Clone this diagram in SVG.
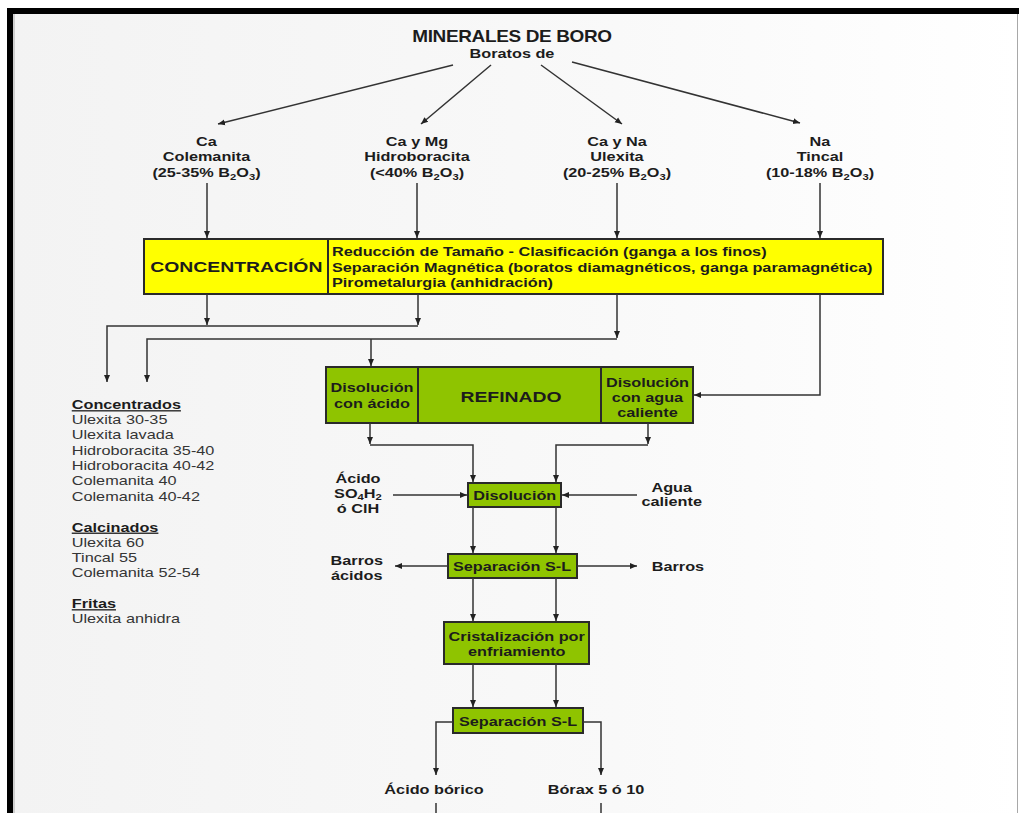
<svg xmlns="http://www.w3.org/2000/svg" width="1019" height="813" viewBox="0 0 1019 813">
<style>
.t{font-family:"Liberation Sans",Arial,sans-serif;transform:scale(1.25,1);fill:#1c1c1c}
.tt{font-family:"Liberation Sans",Arial,sans-serif;transform:scale(1.15,1);fill:#1c1c1c;font-weight:bold;font-size:16.5px;letter-spacing:-0.3px}
.b{font-weight:bold;font-size:13px}
.big{font-weight:bold;font-size:15.5px}
.r{font-size:13px;fill:#353535}
.m{text-anchor:middle}
.u{text-decoration:underline}
.ye{fill:#ffff00;stroke:#2a2a2a;stroke-width:2}
.gr{fill:#8fc400;stroke:#2a2a2a;stroke-width:2}
.dv{stroke:#2a2a2a;stroke-width:2}
.c path,.c line{fill:none;stroke:#333;stroke-width:1.5}
.a{marker-end:url(#ah)}
</style>
<defs>
<linearGradient id="bg" x1="0" y1="0" x2="1" y2="0">
<stop offset="0" stop-color="#f3f3f3"/>
<stop offset="0.6" stop-color="#f9f9f9"/>
<stop offset="1" stop-color="#ffffff"/>
</linearGradient>
<marker id="ah" markerWidth="8" markerHeight="8" refX="7" refY="4" orient="auto" markerUnits="userSpaceOnUse">
<path d="M0,1 L7,4 L0,7 z" fill="#222"/>
</marker>
</defs>
<rect x="0" y="0" width="1019" height="813" fill="#ffffff"/>
<rect x="13" y="14" width="1006" height="799" fill="url(#bg)"/>
<rect x="8" y="8" width="1011" height="6" fill="#000"/>
<rect x="7" y="8" width="6" height="805" fill="#000"/>
<line x1="14" y1="14" x2="14" y2="813" stroke="#aaa" stroke-width="1"/>
<line x1="1017.5" y1="14" x2="1017.5" y2="813" stroke="#a8a8a8" stroke-width="1"/>

<g id="title">
<text class="tt m" x="445.2" y="42">MINERALES DE BORO</text>
<text class="t b m" x="409.6" y="58">Boratos de</text>
</g>

<g id="colemanita">
<text class="t b m" x="165.2" y="146">Ca</text>
<text class="t b m" x="165.2" y="161.5">Colemanita</text>
<text class="t b m" x="165.2" y="177">(25-35% B<tspan dy="3" font-size="9">2</tspan><tspan dy="-3">O</tspan><tspan dy="3" font-size="9">3</tspan><tspan dy="-3">)</tspan></text>
</g>
<g id="hidroboracita">
<text class="t b m" x="333.6" y="146">Ca y Mg</text>
<text class="t b m" x="333.6" y="161.5">Hidroboracita</text>
<text class="t b m" x="333.6" y="177">(&lt;40% B<tspan dy="3" font-size="9">2</tspan><tspan dy="-3">O</tspan><tspan dy="3" font-size="9">3</tspan><tspan dy="-3">)</tspan></text>
</g>
<g id="ulexita">
<text class="t b m" x="493.6" y="146">Ca y Na</text>
<text class="t b m" x="493.6" y="161.5">Ulexita</text>
<text class="t b m" x="493.6" y="177">(20-25% B<tspan dy="3" font-size="9">2</tspan><tspan dy="-3">O</tspan><tspan dy="3" font-size="9">3</tspan><tspan dy="-3">)</tspan></text>
</g>
<g id="tincal">
<text class="t b m" x="656" y="146">Na</text>
<text class="t b m" x="656" y="161.5">Tincal</text>
<text class="t b m" x="656" y="177">(10-18% B<tspan dy="3" font-size="9">2</tspan><tspan dy="-3">O</tspan><tspan dy="3" font-size="9">3</tspan><tspan dy="-3">)</tspan></text>
</g>

<g id="concentracion">
<rect class="ye" x="144" y="239" width="739" height="55"/>
<line class="dv" x1="328" y1="239" x2="328" y2="294"/>
<text class="t big m" x="189.1" y="272.5">CONCENTRACIÓN</text>
<text class="t b" x="265.6" y="256.5">Reducción de Tamaño - Clasificación (ganga a los finos)</text>
<text class="t b" x="265.6" y="272">Separación Magnética (boratos diamagnéticos, ganga paramagnética)</text>
<text class="t b" x="265.6" y="287.5">Pirometalurgia (anhidración)</text>
</g>

<g id="productos">
<text class="t b u" x="57.4" y="409.3">Concentrados</text>
<text class="t r" x="57.4" y="424.3">Ulexita 30-35</text>
<text class="t r" x="57.4" y="439.5">Ulexita lavada</text>
<text class="t r" x="57.4" y="454.7">Hidroboracita 35-40</text>
<text class="t r" x="57.4" y="470">Hidroboracita 40-42</text>
<text class="t r" x="57.4" y="485.3">Colemanita 40</text>
<text class="t r" x="57.4" y="500.6">Colemanita 40-42</text>
<text class="t b u" x="57.4" y="531.7">Calcinados</text>
<text class="t r" x="57.4" y="547">Ulexita 60</text>
<text class="t r" x="57.4" y="562.3">Tincal 55</text>
<text class="t r" x="57.4" y="577.5">Colemanita 52-54</text>
<text class="t b u" x="57.4" y="608.3">Fritas</text>
<text class="t r" x="57.4" y="623.5">Ulexita anhidra</text>
</g>

<g id="refinado">
<rect class="gr" x="326" y="367" width="367" height="56"/>
<line class="dv" x1="418" y1="367" x2="418" y2="423"/>
<line class="dv" x1="601" y1="367" x2="601" y2="423"/>
<text class="t b m" x="297.6" y="392.5">Disolución</text>
<text class="t b m" x="297.6" y="408">con ácido</text>
<text class="t big m" x="408.8" y="402.5">REFINADO</text>
<text class="t b m" x="518" y="387">Disolución</text>
<text class="t b m" x="518" y="402.5">con agua</text>
<text class="t b m" x="518" y="417.5">caliente</text>
</g>

<g id="acido">
<text class="t b m" x="286.4" y="483">Ácido</text>
<text class="t b m" x="286.4" y="498">SO<tspan dy="2" font-size="9">4</tspan><tspan dy="-2">H</tspan><tspan dy="2" font-size="9">2</tspan></text>
<text class="t b m" x="286.4" y="513">ó ClH</text>
</g>
<g id="agua">
<text class="t b m" x="537.4" y="491.7">Agua</text>
<text class="t b m" x="537.4" y="506">caliente</text>
</g>

<g id="disolucion">
<rect class="gr" x="468" y="483" width="93" height="24"/>
<text class="t b m" x="411.8" y="500.5">Disolución</text>
</g>

<g id="separacion1">
<rect class="gr" x="448" y="554" width="129" height="24"/>
<text class="t b m" x="409.6" y="571.5">Separación S-L</text>
</g>
<g id="barros-acidos">
<text class="t b m" x="285.4" y="565">Barros</text>
<text class="t b m" x="285.4" y="580">ácidos</text>
</g>
<g id="barros">
<text class="t b" x="521.4" y="571.5">Barros</text>
</g>

<g id="cristalizacion">
<rect class="gr" x="444" y="622" width="145" height="42"/>
<text class="t b m" x="413.4" y="641.5">Cristalización por</text>
<text class="t b m" x="413.4" y="656">enfriamiento</text>
</g>

<g id="separacion2">
<rect class="gr" x="453" y="708" width="130" height="25"/>
<text class="t b m" x="414.4" y="726.5">Separación S-L</text>
</g>

<g id="acido-borico">
<text class="t b m" x="347.2" y="794">Ácido bórico</text>
</g>
<g id="borax">
<text class="t b m" x="476.8" y="794">Bórax 5 ó 10</text>
</g>

<g id="connectors" class="c">
<path class="a" d="M453,65 L218,124"/>
<path class="a" d="M491,65 L421,124"/>
<path class="a" d="M541,65 L622,124"/>
<path class="a" d="M572,62 L800,123"/>
<path class="a" d="M207,183 V238"/>
<path class="a" d="M417,183 V238"/>
<path class="a" d="M617,183 V238"/>
<path class="a" d="M820,183 V238"/>
<path class="a" d="M207,294 V325"/>
<path class="a" d="M418,294 V325"/>
<path class="a" d="M418,326 H107 V382"/>
<path class="a" d="M617,294 V338"/>
<path class="a" d="M617,339 H147 V382"/>
<path class="a" d="M371,339 V366"/>
<path class="a" d="M820,294 V395 H694"/>
<path class="a" d="M370,423 V444"/>
<path class="a" d="M370,445 H473 V482"/>
<path class="a" d="M648,423 V444"/>
<path class="a" d="M648,445 H556 V482"/>
<path class="a" d="M393,495 H467"/>
<path class="a" d="M637,495 H562"/>
<path class="a" d="M473,507 V553"/>
<path class="a" d="M556,507 V553"/>
<path class="a" d="M448,566 H395"/>
<path class="a" d="M577,566 H637"/>
<path class="a" d="M473,578 V621"/>
<path class="a" d="M556,578 V621"/>
<path class="a" d="M473,664 V707"/>
<path class="a" d="M556,664 V707"/>
<path class="a" d="M453,722 H436 V775"/>
<path class="a" d="M583,722 H601 V775"/>
<line x1="436" y1="803" x2="436" y2="813"/>
<line x1="601" y1="803" x2="601" y2="813"/>
</g>
</svg>
